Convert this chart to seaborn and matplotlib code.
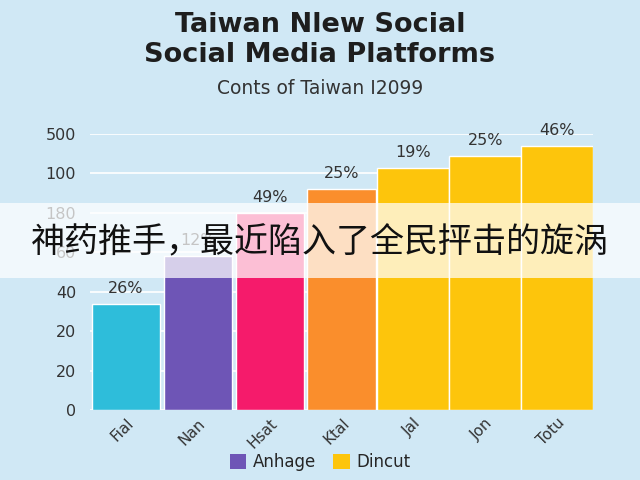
import matplotlib
matplotlib.use('Agg')
import matplotlib.pyplot as plt
from matplotlib.patches import Patch, Rectangle
import seaborn as sns
import pandas as pd

# chart data
months = ['Fial', 'Nan', 'Hsat', 'Ktal', 'Jal', 'Jon', 'Totu']
values = [54, 78, 100, 112, 123, 129, 134]
pct_labels = ['26%', '12%', '49%', '25%', '19%', '25%', '46%']
bar_colors = ['#2EBDDA', '#6E55B6', '#F51B6B', '#FA8E2C', '#FDC50C', '#FDC50C', '#FDC50C']
ytick_vals = [0, 20, 40, 60, 80, 100, 120, 140]
ytick_text = ['0', '20', '20', '40', '60', '180', '100', '500']
legend_names = ['Anhage', 'Dincut']
legend_colors = ['#6E55B6', '#FDC50C']

title = 'Taiwan Nlew Social\nSocial Media Platforms'
subtitle = 'Conts of Taiwan I2099'
caption = '神药推手，最近陷入了全民抨击的旋涡'

BG = '#D0E8F5'

sns.set_theme(style='white')
plt.rcParams['font.family'] = ['DejaVu Sans', 'Noto Sans CJK SC']

fig = plt.figure(figsize=(6.4, 4.8), dpi=100)
fig.patch.set_facecolor(BG)
ax = fig.add_axes([90 / 640, 1 - 410 / 480, 503 / 640, (410 - 134) / 480])
ax.set_facecolor(BG)

df = pd.DataFrame({'month': months, 'value': values})
sns.barplot(data=df, x='month', y='value', hue='month', palette=bar_colors,
            width=0.95, legend=False, ax=ax, zorder=3, saturation=1)

# yellow bars sit edge to edge
for i, p in enumerate(ax.patches):
    if i >= 4:
        p.set_x(i - 0.5)
        p.set_width(1.0)

ax.set_xlim(-0.5, len(months) - 0.5)
ax.set_ylim(0, 140)
ax.set_yticks(ytick_vals)
ax.set_yticklabels(ytick_text, fontsize=11.5, color='#333333')
ax.yaxis.grid(True, color='white', linewidth=1.2, zorder=0)
ax.set_axisbelow(True)
ax.tick_params(axis='y', length=0, pad=10)
ax.tick_params(axis='x', length=0, pad=4)
plt.setp(ax.get_xticklabels(), rotation=45, ha='right', rotation_mode='anchor',
         fontsize=11, color='#333333')
ax.set_xlabel('')
ax.set_ylabel('')
sns.despine(ax=ax, left=True, bottom=True)

for i, (v, t) in enumerate(zip(values, pct_labels)):
    ax.text(i, v + 4, t, ha='center', va='bottom', fontsize=11.5,
            color='#333333')

fig.text(0.5, 1 - 40 / 480, title, ha='center', va='center', fontsize=19.5,
         fontweight='bold', color='#1E1E1E', linespacing=1.15)
fig.text(0.5, 1 - 88 / 480, subtitle, ha='center', va='center', fontsize=13.5,
         color='#333333')

handles = [Patch(facecolor=c, edgecolor='none') for c in legend_colors]
fig.legend(handles, legend_names, loc='center', bbox_to_anchor=(0.5, 1 - 462 / 480),
           ncol=2, frameon=False, fontsize=12, handlelength=1.0, handleheight=1.0,
           handletextpad=0.4, columnspacing=1.0)

# caption banner over the chart
fig.patches.append(Rectangle((0, 1 - 278 / 480), 1, 75 / 480, transform=fig.transFigure,
                             facecolor='white', alpha=0.72, edgecolor='none', zorder=10))
fig.text(0.5, 1 - 243 / 480, caption, ha='center', va='center', fontsize=24.5,
         color='#111111', family=['Noto Sans CJK SC', 'DejaVu Sans'], zorder=11)

fig.savefig('out.png', dpi=100, facecolor=BG)
